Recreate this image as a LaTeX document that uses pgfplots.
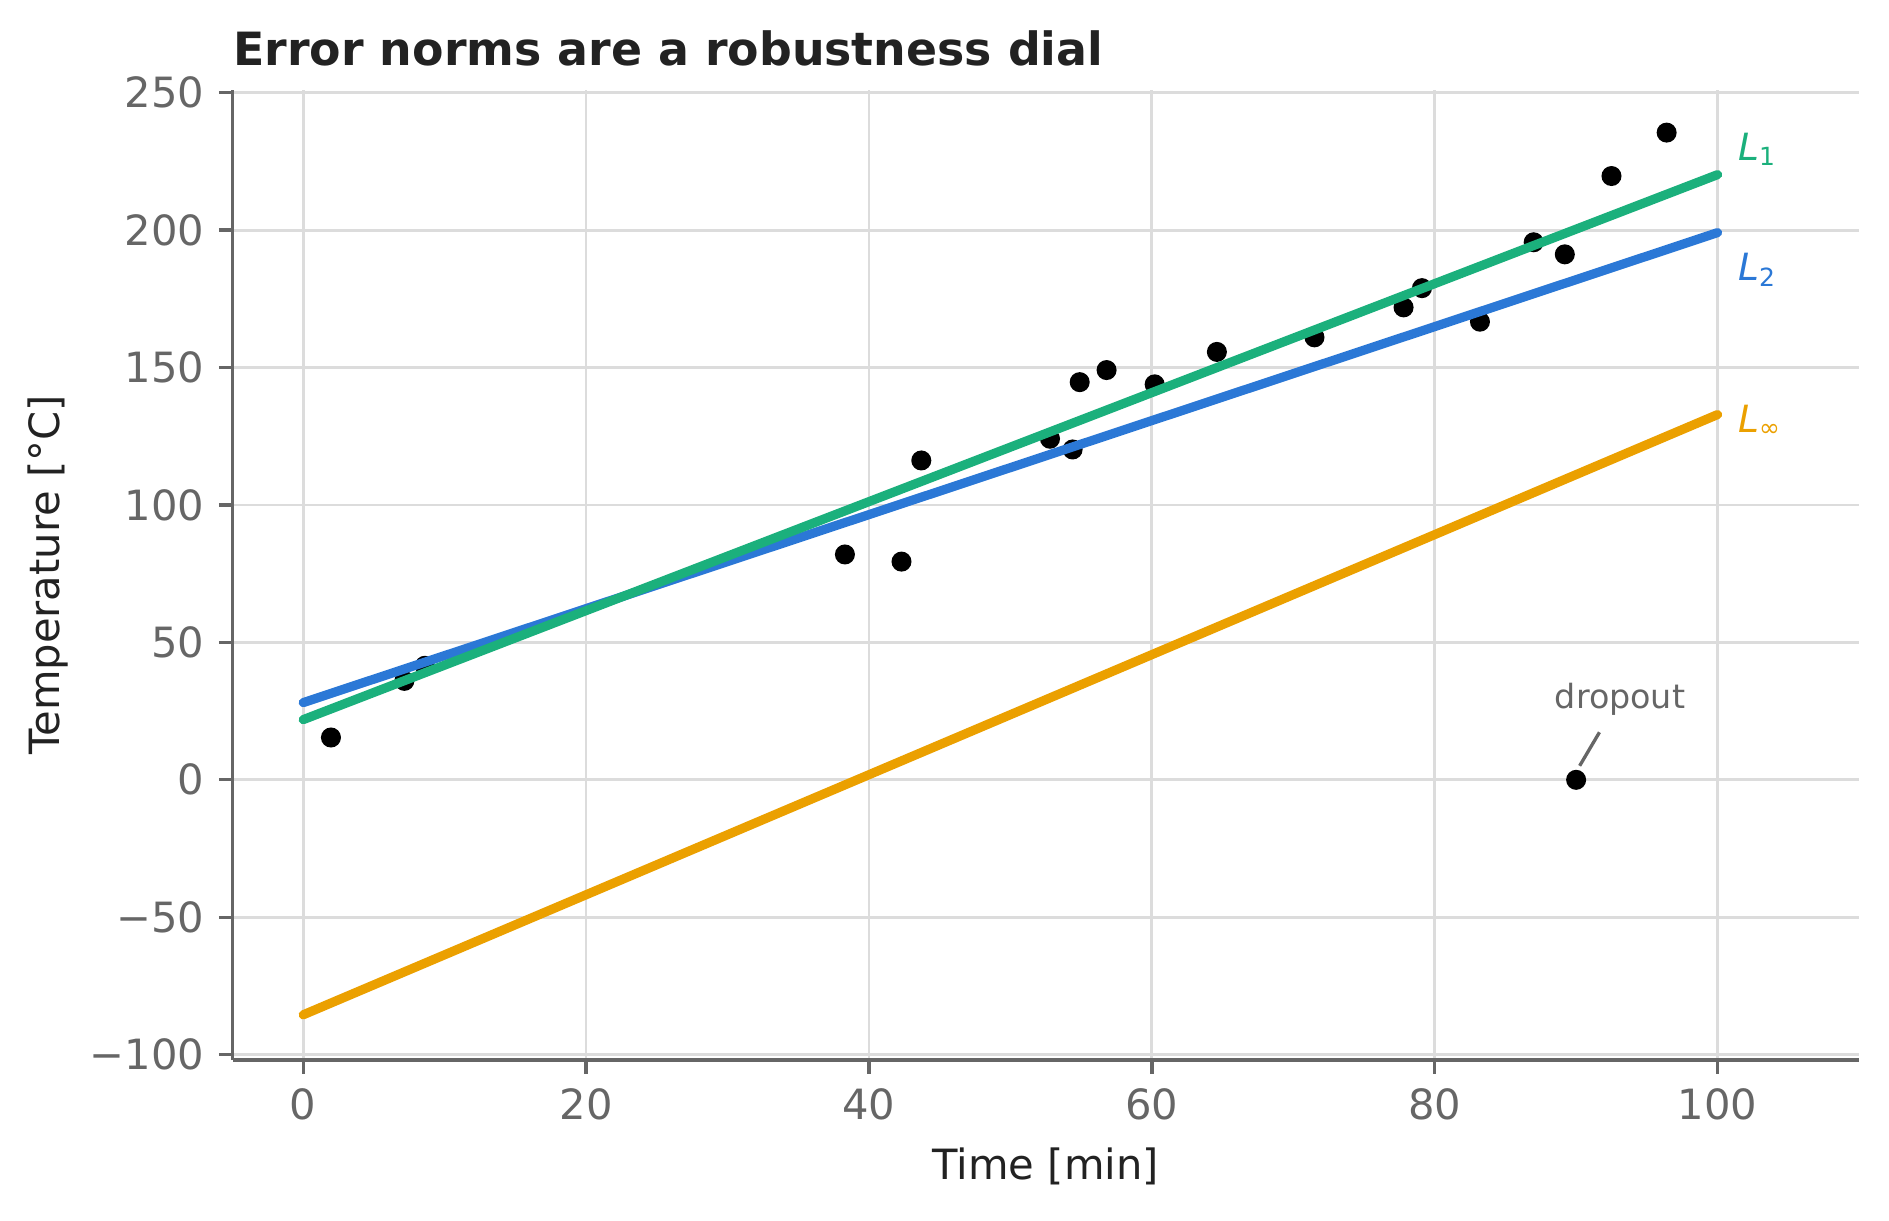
\documentclass[border=0pt]{standalone}
\usepackage{fontspec}
\setmainfont{DejaVu Sans}
\usepackage{pgfplots}
\pgfplotsset{compat=1.18}
\definecolor{cL1}{HTML}{1BB07C}
\definecolor{cL2}{HTML}{2B78D6}
\definecolor{cLi}{HTML}{EBA000}
\definecolor{gridc}{HTML}{DCDCDC}
\definecolor{spine}{HTML}{666666}
\definecolor{tickc}{HTML}{666666}
\definecolor{labc}{HTML}{222222}
\pgfplotstableread{
x y
1.96 15.4
7.15 36.0
8.6 41.5
38.3 82.0
42.3 79.4
43.7 116.2
52.8 124.1
54.4 120.2
54.9 144.7
56.8 149.1
60.2 143.9
64.6 155.7
71.5 161.0
77.8 171.9
79.1 178.9
83.2 166.7
87.0 195.6
89.2 191.2
90.0 0.0
92.5 219.7
96.4 235.5
}\pts
\begin{document}
\begin{tikzpicture}
\begin{axis}[
 scale only axis, width=390.3pt, height=232.8pt,
 xmin=-5, xmax=110, ymin=-102, ymax=251,
 axis x line*=bottom, axis y line*=left,
 axis line style={spine, line width=0.8pt, -},
 xtick={0,20,40,60,80,100}, xticklabels={0,20,40,60,80,100},
 ytick={-100,-50,0,50,100,150,200,250},
 yticklabels={−100,−50,0,50,100,150,200,250},
 tick align=outside, major tick length=3.3pt,
 tick style={spine, line width=0.8pt},
 ticklabel style={font=\fontsize{10}{12}\selectfont, text=tickc},
 grid=major, major grid style={gridc, line width=0.65pt},
 clip=true, clip marker paths=true,
]
\coordinate (SW) at (rel axis cs:0,0);
\coordinate (NE) at (rel axis cs:1,1);
\coordinate (ML) at (rel axis cs:0,0.5);
\coordinate (MB) at (rel axis cs:0.5,0);
\coordinate (TL) at (rel axis cs:0,1);
\addplot[only marks, mark=*, mark size=2.2pt, black] table {\pts};
\addplot[cLi, line width=2.2pt, line cap=round] coordinates {(0,-85.5) (100,132.9)};
\addplot[cL2, line width=2.2pt, line cap=round] coordinates {(0,28.1) (100,199.1)};
\addplot[cL1, line width=2.2pt, line cap=round] coordinates {(0,21.9) (100,220.2)};
\draw[spine, line width=0.8pt] (axis cs:90.25,5.1) -- (axis cs:91.65,17.3);
\node[text=tickc, font=\fontsize{8}{10}\selectfont] at (axis cs:93.1,29.4) {dropout};
\node[anchor=west, inner sep=0pt, text=cL1, font=\fontsize{9}{11}\selectfont] at (axis cs:101.4,229.4) {\textit{L}\textsubscript{1}};
\node[anchor=west, inner sep=0pt, text=cL2, font=\fontsize{9}{11}\selectfont] at (axis cs:101.4,185.5) {\textit{L}\textsubscript{2}};
\node[anchor=west, inner sep=0pt, text=cLi, font=\fontsize{9}{11}\selectfont] at (axis cs:101.4,130.7) {\textit{L}\textsubscript{∞}};
\end{axis}
\node[rotate=90, text=labc, font=\fontsize{10}{12}\selectfont] at ([xshift=-44.2pt]ML) {Temperature [°C]};
\node[text=labc, font=\fontsize{10}{12}\selectfont] at ([yshift=-25.4pt]MB) {Time [min]};
\node[anchor=base west, inner sep=0pt, text=labc, font=\bfseries\fontsize{11}{13}\selectfont] at ([yshift=5.8pt]TL) {Error norms are a robustness dial};
\path ([xshift=-55.8pt,yshift=-38.4pt]SW) rectangle ([xshift=7.2pt,yshift=21.6pt]NE);
\end{tikzpicture}
\end{document}
